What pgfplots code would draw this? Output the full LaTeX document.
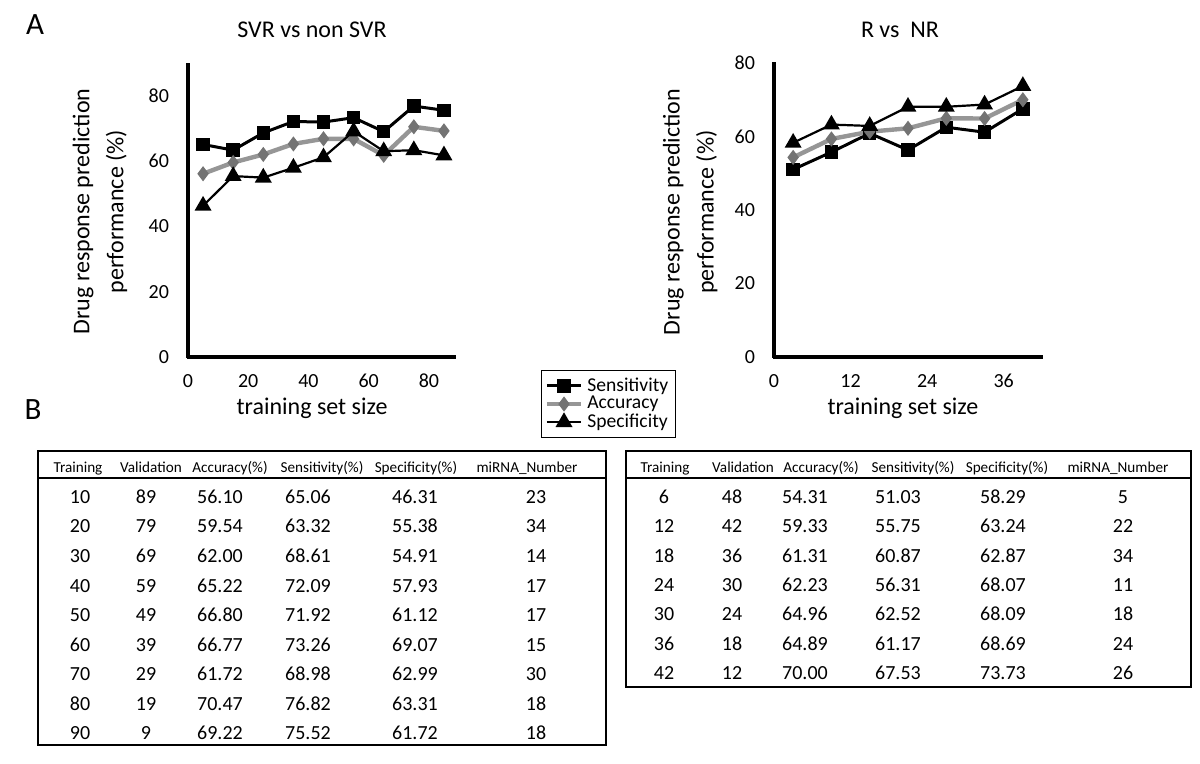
\documentclass[border=0pt]{standalone}
\usepackage{pgfplots}
\usepackage{pgfplotstable}
\pgfplotsset{compat=1.18}
\usepackage{fontspec}
\setmainfont{Carlito}
\definecolor{accgray}{RGB}{150,150,150}
\definecolor{accmark}{RGB}{115,115,115}

\pgfplotstableread{
x sens acc spec
5 65.06 56.10 46.31
15 63.32 59.54 55.38
25 68.61 62.00 54.91
35 72.09 65.22 57.93
45 71.92 66.80 61.12
55 73.26 66.77 69.07
65 68.98 61.72 62.99
75 76.82 70.47 63.31
85 75.52 69.22 61.72
}\svrdata

\pgfplotstableread{
x sens acc spec
3 51.03 54.31 58.29
9 55.75 59.33 63.24
15 60.87 61.31 62.87
21 56.31 62.23 68.07
27 62.52 64.96 68.09
33 61.17 64.89 68.69
39 67.53 70.00 73.73
}\rnrdata

\pgfplotsset{
  myaxis/.style={
    scale only axis,
    width=134pt, height=147pt,
    axis x line*=bottom, axis y line*=left,
    axis line style={line width=1.6pt, -},
    every tick/.style={black, line width=0.9pt},
    major tick length=2pt, minor tick length=2pt,
    tick align=center,
    ymin=0,
    ticklabel style={font=\fontsize{10}{12}\selectfont},
    /pgf/number format/assume math mode=true,
    yticklabel style={xshift=-5pt},
    xticklabel style={yshift=-4pt},
    label style={font=\fontsize{12}{17}\selectfont},
    ylabel style={align=center},
    clip=false,
  },
  senstyle/.style={black, line width=1.5pt, mark=square*, mark size=2.6pt, mark options={solid, fill=black}},
  accstyle/.style={accgray, line width=2.2pt, mark=diamond*, mark size=3.4pt, mark options={solid, fill=accmark, draw=accmark, line width=0.5pt}},
  spestyle/.style={black, line width=1.1pt, mark=triangle*, mark size=3.8pt, mark options={solid, fill=black}},
}

\begin{document}
\begin{tikzpicture}
\useasboundingbox (0,0) rectangle (600pt,-382pt);

% ---------- left plot ----------
\begin{axis}[myaxis,
  at={(94pt,-178.5pt)}, anchor=south west,
  xmin=0, xmax=89, ymax=90,
  xtick={0,20,40,60,80}, minor xtick={10,30,50,70},
  ytick={0,20,40,60,80}, minor ytick={10,30,50,70},
  xlabel={training set size},
  xlabel style={at={(axis description cs:0.463,-0.174)}, anchor=center},
  ylabel={Drug response prediction\\performance (\%)},
  ylabel style={at={(axis description cs:-0.328,0.495)}, anchor=center},
  legend style={at={(axis description cs:1.569,-0.160)}, anchor=center,
    draw=black, line width=0.6pt, inner sep=1.5pt,
    font=\fontsize{9.8}{9.8}\selectfont, row sep=-3pt,
    legend cell align=left},
]
\addplot[senstyle] table[x=x, y=sens] {\svrdata};
\addlegendentry{Sensitivity}
\addplot[accstyle] table[x=x, y=acc] {\svrdata};
\addlegendentry{Accuracy}
\addplot[spestyle] table[x=x, y=spec] {\svrdata};
\addlegendentry{Specificity}
\end{axis}

% ---------- right plot ----------
\begin{axis}[myaxis,
  at={(387pt,-178.5pt)}, anchor=south west,
  xmin=0, xmax=42, ymax=80,
  xtick={0,12,24,36}, minor xtick={6,18,30,42},
  ytick={0,20,40,60,80}, minor ytick={10,30,50,70},
  xlabel={training set size},
  xlabel style={at={(axis description cs:0.481,-0.173)}, anchor=center},
  ylabel={Drug response prediction\\performance (\%)},
  ylabel style={at={(axis description cs:-0.313,0.493)}, anchor=center},
]
\addplot[senstyle] table[x=x, y=sens] {\rnrdata};
\addplot[accstyle] table[x=x, y=acc] {\rnrdata};
\addplot[spestyle] table[x=x, y=spec] {\rnrdata};
\end{axis}

\begin{scope}[x=0.5pt, y=-0.5pt]
% titles and panel letters
\node[font=\fontsize{12}{14}\selectfont] at (312,30) {SVR vs non SVR};
\node[font=\fontsize{12}{14}\selectfont] at (900,30) {R vs\ \ NR};
\node[font=\fontsize{15.5}{18}\selectfont] at (35,25) {A};
\node[font=\fontsize{15.5}{18}\selectfont] at (33,410) {B};

% ---------- left table ----------
\draw[line width=1.2pt] (38,451) rectangle (606,745);
\draw[line width=0.8pt] (38,478) -- (606,478);
\begin{scope}[every node/.style={font=\fontsize{7.6}{9}\selectfont, anchor=base, inner sep=0pt}]
\node at (78,473) {Training};
\node at (151,473) {Validation};
\node at (230,473) {Accuracy(\%)};
\node at (322,473) {Sensitivity(\%)};
\node at (416,473) {Specificity(\%)};
\node at (527,473) {miRNA\_Number};
\end{scope}
\begin{scope}[every node/.style={font=\fontsize{10}{12}\selectfont, anchor=base, inner sep=0pt}]
\foreach \y/\a/\b/\c/\d/\e/\f in {
  503.5/10/89/56.10/65.06/46.31/23,
  533/20/79/59.54/63.32/55.38/34,
  562.5/30/69/62.00/68.61/54.91/14,
  592/40/59/65.22/72.09/57.93/17,
  621.5/50/49/66.80/71.92/61.12/17,
  651/60/39/66.77/73.26/69.07/15,
  680.5/70/29/61.72/68.98/62.99/30,
  710/80/19/70.47/76.82/63.31/18,
  739.5/90/9/69.22/75.52/61.72/18}{
  \node at (80,\y) {\a};
  \node at (146,\y) {\b};
  \node at (220,\y) {\c};
  \node at (308,\y) {\d};
  \node at (415,\y) {\e};
  \node at (536,\y) {\f};
}
\end{scope}

% ---------- right table ----------
\draw[line width=1.2pt] (626,451) rectangle (1191,687);
\draw[line width=0.8pt] (626,478) -- (1191,478);
\begin{scope}[every node/.style={font=\fontsize{7.6}{9}\selectfont, anchor=base, inner sep=0pt}]
\node at (665,473) {Training};
\node at (743,473) {Validation};
\node at (821,473) {Accuracy(\%)};
\node at (913,473) {Sensitivity(\%)};
\node at (1007,473) {Specificity(\%)};
\node at (1118,473) {miRNA\_Number};
\end{scope}
\begin{scope}[every node/.style={font=\fontsize{10}{12}\selectfont, anchor=base, inner sep=0pt}]
\foreach \y/\a/\b/\c/\d/\e/\f in {
  503.5/6/48/54.31/51.03/58.29/5,
  532.8/12/42/59.33/55.75/63.24/22,
  562.1/18/36/61.31/60.87/62.87/34,
  591.4/24/30/62.23/56.31/68.07/11,
  620.7/30/24/64.96/62.52/68.09/18,
  650/36/18/64.89/61.17/68.69/24,
  679.5/42/12/70.00/67.53/73.73/26}{
  \node at (664,\y) {\a};
  \node at (732,\y) {\b};
  \node at (805,\y) {\c};
  \node at (898,\y) {\d};
  \node at (1003,\y) {\e};
  \node at (1123,\y) {\f};
}
\end{scope}
\end{scope}
\end{tikzpicture}
\end{document}
